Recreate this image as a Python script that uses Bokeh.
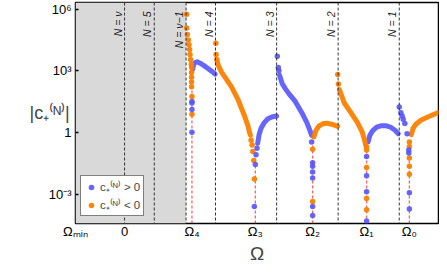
from math import pi
from bokeh.plotting import figure
from bokeh.models import (Range1d, FixedTicker, Span, Legend, LegendItem,
                          BoxAnnotation)
from bokeh.core.properties import value
from bokeh.embed import file_html
from bokeh.resources import INLINE

# ---------------- data (Omega in arbitrary units, |c| as log10 exponents) -------------
omega_tick_pos = [0, 50, 118.7, 183.3, 241.7, 296.7, 340.3]
omega_tick_labels = ["Ωₘᵢₙ", "0", "Ω₄", "Ω₃", "Ω₂", "Ω₁", "Ω₀"]

y_tick_vals = [1e-3, 1, 1e3, 1e6]
y_tick_labels = ["10⁻³", "1", "10³", "10⁶"]

n_line_pos = [50, 80.3, 112.7, 142.7, 205, 267.7, 330]
n_line_labels = ["N = ν", "N = 5", "N = ν−1", "N = 4", "N = 3", "N = 2", "N = 1"]

red_line_x = [118.7, 183.3, 241.7, 296.7, 340.3]
red_line_top_exp = [2.92, -1.23, -0.14, -0.71, -0.38]

# continuous blue branches (c > 0)
blue_A_x = [119.3, 120.5, 122, 124, 127, 131, 135, 139, 142.3]
blue_A_e = [3.07, 3.30, 3.40, 3.44, 3.37, 3.25, 3.11, 2.97, 2.84]
blue_C_x = [185.7, 187, 189, 192, 195.7, 200, 205]
blue_C_e = [-0.53, -0.14, 0.19, 0.45, 0.65, 0.75, 0.80]
blue_D_x = [208, 210.7, 214, 217.3, 224, 230.7, 235.7, 239, 240.7]
blue_D_e = [2.78, 2.37, 2.12, 1.90, 1.51, 0.96, 0.49, 0.09, -0.14]
blue_G_x = [298.3, 300, 303, 307, 312, 316, 321, 326, 329]
blue_G_e = [-0.46, -0.14, 0.09, 0.26, 0.33, 0.33, 0.26, 0.09, -0.06]

# continuous orange branches (c < 0)
orange_B_x = [144.5, 145.7, 149, 152.3, 159, 165.7, 172.3, 175.7, 177.3, 178.3]
orange_B_e = [3.44, 3.25, 2.92, 2.69, 2.22, 1.59, 0.80, 0.33, 0.01, -0.14]
orange_E_x = [243, 245, 248, 252, 256, 261, 267.3]
orange_E_e = [-0.22, 0.09, 0.31, 0.42, 0.45, 0.40, 0.30]
orange_F_x = [269, 274, 280.7, 287.3, 292.3, 294.7, 295.7]
orange_F_e = [2.08, 1.43, 0.96, 0.49, 0.01, -0.38, -0.61]
orange_I_x = [342.3, 344, 347, 352, 359, 365, 370.7]
orange_I_e = [-0.11, 0.19, 0.40, 0.59, 0.75, 0.87, 0.98]

# isolated points
blue_pts_x = [118.7, 118.7, 118.7, 118.7,
              185, 184, 183.3, 182.3,
              205.7, 206.7, 207.3,
              240.7, 241.7, 241.7, 241.7, 241.7, 241.7, 241.7,
              296.7, 296.7, 296.7, 296.7,
              330, 331.7, 333, 334, 335.7, 338,
              339.7, 339.7, 340.3, 340.3]
blue_pts_e = [1.51, 1.43, 1.12, 0.01,
              -0.77, -1.08, -1.56, -3.60,
              3.71, 3.16, 3.00,
              -0.46, -1.48, -1.64, -1.93, -2.22, -3.60, -4.04,
              -1.17, -2.11, -2.89, -4.31,
              1.24, 0.96, 0.80, 0.64, 0.44, -0.06,
              -0.85, -1.00, -2.94, -3.73]

orange_pts_x = [113.3, 113.3, 114, 115, 115.7, 116.3, 116.7, 117.3, 118, 118.3,
                118.3, 118.3, 118.3, 118.3, 118.7, 118.7,
                143, 143.3, 144,
                179, 180, 180.7, 181.7, 182.3,
                241.7, 241.7,
                267.3, 268,
                296.7, 296.7, 296.7, 296.7, 296.7,
                340.3, 340.3, 340.3, 340.3, 340.3]
orange_pts_e = [5.75, 5.08, 4.76, 4.50, 4.27, 4.03, 3.79, 3.55, 3.32, 3.16,
                2.92, 2.69, 2.45, 2.22, 1.75, 0.88,
                4.34, 3.79, 3.55,
                -0.38, -0.61, -0.93, -1.37, -2.26,
                -0.82, -3.36,
                2.82, 2.36,
                -0.71, -0.85, -1.71, -3.21, -3.76,
                -0.46, -0.69, -1.24, -1.64, -2.03]

# ---------------- figure ----------------
BLUE = "#5555ff"
ORANGE = "#ff8000"
FONT = "Liberation Sans"
x_lo, x_hi = 0, 370
y_lo, y_hi = 10 ** -4.43, 10 ** 6.32

def tv(es):
    return [10 ** e for e in es]

p = figure(width=439, height=266, x_range=Range1d(x_lo, x_hi), y_range=Range1d(y_lo, y_hi),
           y_axis_type="log", output_backend="svg", toolbar_location=None,
           min_border_left=75, min_border_right=1, min_border_top=2, min_border_bottom=42)
p.xgrid.visible = False
p.ygrid.visible = False
p.outline_line_color = "black"
p.outline_line_width = 1.5
p.background_fill_color = "white"

# axes
p.xaxis.ticker = FixedTicker(ticks=omega_tick_pos)
p.xaxis.major_label_overrides = {v: l for v, l in zip(omega_tick_pos, omega_tick_labels)}
p.yaxis.ticker = FixedTicker(ticks=y_tick_vals)
p.yaxis.major_label_overrides = {v: l for v, l in zip(y_tick_vals, y_tick_labels)}
for ax in (p.xaxis[0], p.yaxis[0]):
    ax.axis_line_color = None
    ax.minor_tick_line_color = None
    ax.major_label_text_font = FONT
    ax.major_label_text_font_size = "13px"
    ax.major_label_text_color = "black"
    ax.major_tick_line_color = "black"
    ax.major_tick_line_width = 1.5
p.xaxis.major_tick_in = 0
p.xaxis.major_tick_out = 0
p.yaxis.major_tick_in = 3
p.yaxis.major_tick_out = 0
p.xaxis.major_label_standoff = 0
p.yaxis.major_label_standoff = 4
p.xaxis.axis_label = "Ω"
p.xaxis.axis_label_text_font = FONT
p.xaxis.axis_label_text_font_style = "normal"
p.xaxis.axis_label_text_font_size = "19px"
p.xaxis.axis_label_standoff = 1

# y axis label, horizontal, pulled in over the tick-label column
p.yaxis.axis_label = "|c₊⁽ᴺ⁾|"
p.yaxis.axis_label_orientation = "horizontal"
p.yaxis.axis_label_text_font = FONT
p.yaxis.axis_label_text_font_style = "normal"
p.yaxis.axis_label_text_font_size = "18px"
p.yaxis.axis_label_standoff = -24

# gray excluded region (up to the N = nu-1 line)
p.add_layout(BoxAnnotation(left=x_lo, right=n_line_pos[2], fill_color="#d9d9d9",
                           fill_alpha=1, line_color=None, level="underlay"))

# dashed N lines with labels
for xpos in n_line_pos:
    p.add_layout(Span(location=xpos, dimension="height", line_color="#333333",
                      line_width=1, line_dash="3 2"))
p.text(x=n_line_pos, y=[y_hi] * len(n_line_pos), text=n_line_labels, angle=pi / 2,
       text_align="right", text_baseline="bottom", x_offset=-1, y_offset=9,
       text_font=value(FONT), text_font_size="10.5px", text_font_style="italic",
       text_color="#222222")

# red dashed lines at Omega_k
p.segment(x0=red_line_x, y0=[y_lo] * len(red_line_x), x1=red_line_x, y1=tv(red_line_top_exp),
          line_color="#ff3030", line_alpha=0.75, line_width=1.3, line_dash="3 2")

# continuous branches
for xs, es in [(blue_A_x, blue_A_e), (blue_C_x, blue_C_e), (blue_D_x, blue_D_e), (blue_G_x, blue_G_e)]:
    p.line(xs, tv(es), line_color=BLUE, line_width=5, line_cap="round", line_join="round", line_alpha=0.9)
for xs, es in [(orange_B_x, orange_B_e), (orange_E_x, orange_E_e), (orange_F_x, orange_F_e), (orange_I_x, orange_I_e)]:
    p.line(xs, tv(es), line_color=ORANGE, line_width=5, line_cap="round", line_join="round", line_alpha=0.95)

# isolated points
r_orange = p.scatter(orange_pts_x, tv(orange_pts_e), size=5.5, fill_color=ORANGE, line_color=None, fill_alpha=0.95)
r_blue = p.scatter(blue_pts_x, tv(blue_pts_e), size=5.5, fill_color=BLUE, line_color=None, fill_alpha=0.9)

# legend
legend = Legend(items=[LegendItem(label="c₊⁽ᴺ⁾ > 0", renderers=[r_blue]),
                       LegendItem(label="c₊⁽ᴺ⁾ < 0", renderers=[r_orange])],
                location=(5, 7), border_line_color="black", border_line_width=1.3,
                background_fill_color="white", background_fill_alpha=1,
                label_text_font=FONT, label_text_font_size="11.5px", padding=3, spacing=3,
                margin=0, glyph_width=14, glyph_height=14, label_height=14, label_standoff=2)
p.add_layout(legend)

open("out.html", "w").write(file_html(p, INLINE))
